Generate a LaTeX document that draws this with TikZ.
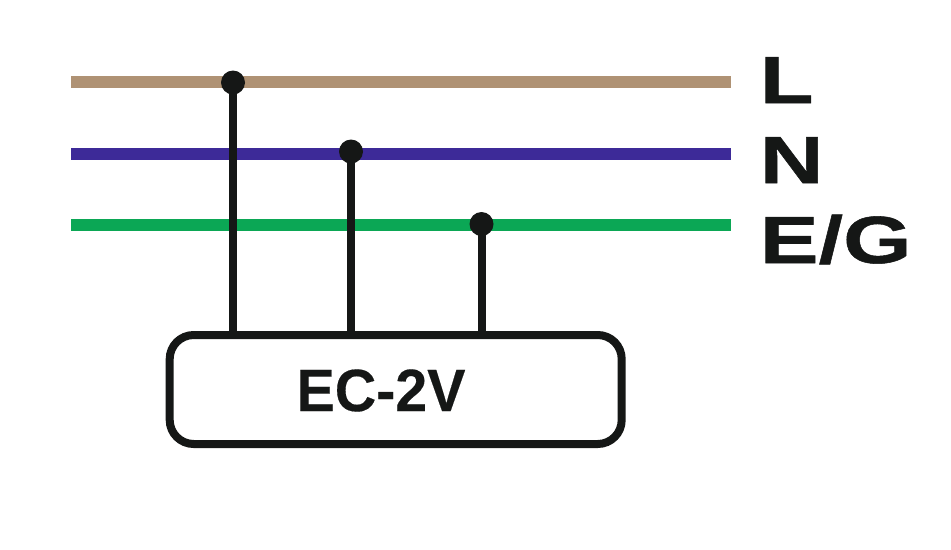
\documentclass[tikz,border=0pt]{standalone}
\usepackage{fontspec}
\newfontfamily\phasefont[FakeStretch=1.32, FakeBold=0.8]{Liberation Sans Bold}
\newfontfamily\boxfont[FakeStretch=0.96, FakeBold=0.3]{Liberation Sans Bold}
\definecolor{wirebrown}{HTML}{AF9274}
\definecolor{wireblue}{HTML}{3D2A98}
\definecolor{wiregreen}{HTML}{0BA755}
\definecolor{inkblack}{HTML}{151716}
\tikzset{
    bus/.style={line width=12*0.02cm},
    tap/.style={line width=8*0.02cm, draw=inkblack},
    dot/.style={circle, fill=inkblack, inner sep=0pt, outer sep=0pt, minimum size=24*0.02cm},
    phase/.style={anchor=base west, inner sep=0pt, text=inkblack, font=\phasefont\fontsize{38}{38}\selectfont},
}
\begin{document}
\begin{tikzpicture}[x=0.02cm, y=-0.02cm]

    % Fix the page to the size of the picture
    \useasboundingbox (0, 0) rectangle (951, 549);

    % Define the ends of the three wires
    \coordinate (Lstart) at (71, 82);
    \coordinate (Lend) at (731, 82);
    \coordinate (Nstart) at (71, 153.7);
    \coordinate (Nend) at (731, 153.7);
    \coordinate (Gstart) at (71, 225);
    \coordinate (Gend) at (731, 225);

    % Draw the three wires
    \draw[bus, wirebrown] (Lstart) -- (Lend);
    \draw[bus, wireblue] (Nstart) -- (Nend);
    \draw[bus, wiregreen] (Gstart) -- (Gend);

    % Draw the box of the device
    \node[draw=inkblack, line width=8*0.02cm, rounded corners=24*0.02cm, inner sep=0pt,
        minimum width=452*0.02cm, minimum height=109*0.02cm] (device) at (395.7, 389.5) {};

    % Draw the joints on the wires
    \node[dot] (dotL) at (233, 82.5) {};
    \node[dot] (dotN) at (351, 151.5) {};
    \node[dot] (dotG) at (481.5, 224) {};

    % Draw lines from the joints down to the box
    \draw[tap] (dotL.center) -- (dotL |- device.north);
    \draw[tap] (dotN.center) -- (dotN |- device.north);
    \draw[tap] (dotG.center) -- (dotG |- device.north);

    % Label the device
    \node[text=inkblack, inner sep=0pt, font=\boxfont\fontsize{34}{34}\selectfont] (devicename) at (381, 390.5) {EC-2V};

    % Label the wires
    \node[phase] (labelL) at (759.5, 103) {L};
    \node[phase] (labelN) at (759.5, 183) {N};
    \node[phase] (labelG) at (759.5, 263) {E/G};

\end{tikzpicture}
\end{document}
